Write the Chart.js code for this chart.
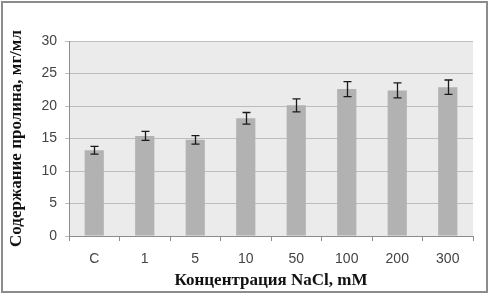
<!DOCTYPE html>
<html>
<head>
<meta charset="utf-8">
<script src="https://cdn.jsdelivr.net/npm/chart.js@4"></script>
<style>
  html, body { margin: 0; padding: 0; background: #fff; }
  #wrap { width: 491px; height: 295px; position: relative; }
</style>
</head>
<body>
<div id="wrap"><canvas id="myChart" width="491" height="295"></canvas></div>
<script>
// data
var categories = ['C', '1', '5', '10', '50', '100', '200', '300'];
var proline = [13.2, 15.4, 14.8, 18.1, 20.1, 22.6, 22.4, 22.9];
var errors = [0.6, 0.7, 0.65, 0.9, 1.0, 1.15, 1.15, 1.1];

// grey plot area + outer frame
var backdrop = {
    id: 'backdrop',
    beforeDraw: function (chart) {
        var c = chart.ctx, a = chart.chartArea;
        c.save();
        c.fillStyle = '#ebebeb';
        c.fillRect(a.left, a.top, a.right - a.left, a.bottom - a.top);
        c.restore();
    },
    afterDraw: function (chart) {
        var c = chart.ctx;
        c.save();
        c.strokeStyle = '#8c8c8c';
        c.lineWidth = 2;
        c.strokeRect(2, 2, 485, 290);
        c.restore();
    }
};

// error bars drawn through the scales
var errorBars = {
    id: 'errorBars',
    afterDatasetsDraw: function (chart) {
        var c = chart.ctx;
        var yScale = chart.scales.y;
        var meta = chart.getDatasetMeta(0);
        c.save();
        c.strokeStyle = '#1a1a1a';
        c.lineWidth = 1.3;
        meta.data.forEach(function (bar, i) {
            var x = Math.round(bar.x) + 0.5;
            var top = yScale.getPixelForValue(proline[i] + errors[i]);
            var bot = yScale.getPixelForValue(proline[i] - errors[i]);
            c.beginPath();
            c.moveTo(x, top); c.lineTo(x, bot);
            c.moveTo(x - 4, top); c.lineTo(x + 4, top);
            c.moveTo(x - 4, bot); c.lineTo(x + 4, bot);
            c.stroke();
        });
        c.restore();
    }
};

var ctx = document.getElementById('myChart').getContext('2d');
var myChart = new Chart(ctx, {
    type: 'bar',
    data: {
        labels: categories,
        datasets: [{
            data: proline,
            backgroundColor: '#b2b2b2',
            borderWidth: 0,
            barPercentage: 0.38,
            categoryPercentage: 1
        }]
    },
    options: {
        responsive: false,
        animation: false,
        layout: { padding: { left: 0, right: 18, top: 41, bottom: 0 } },
        plugins: {
            legend: { display: false },
            tooltip: { enabled: false }
        },
        scales: {
            x: {
                afterFit: function (s) { s.height = 59; },
                grid: {
                    offset: true,
                    drawOnChartArea: false,
                    tickLength: 5,
                    color: '#8c8c8c'
                },
                border: { color: '#8c8c8c' },
                ticks: {
                    color: '#444',
                    padding: 10,
                    font: { family: 'Liberation Sans', size: 14 }
                },
                title: {
                    display: true,
                    text: 'Концентрация NaCl, mM',
                    color: '#111',
                    padding: { top: 0, bottom: 4 },
                    font: { family: 'Liberation Serif', size: 17, weight: 'bold' }
                }
            },
            y: {
                min: 0,
                max: 30,
                afterFit: function (s) { s.width = 69; },
                grid: {
                    color: '#bdbdbd',
                    tickLength: 4
                },
                border: { color: '#8c8c8c' },
                ticks: {
                    stepSize: 5,
                    color: '#444',
                    padding: 8,
                    font: { family: 'Liberation Sans', size: 14 }
                },
                title: {
                    display: true,
                    text: 'Содержание пролина, мг/мл',
                    color: '#111',
                    padding: { top: 6, bottom: 0 },
                    font: { family: 'Liberation Serif', size: 17, weight: 'bold' }
                }
            }
        }
    },
    plugins: [backdrop, errorBars]
});
</script>
</body>
</html>
